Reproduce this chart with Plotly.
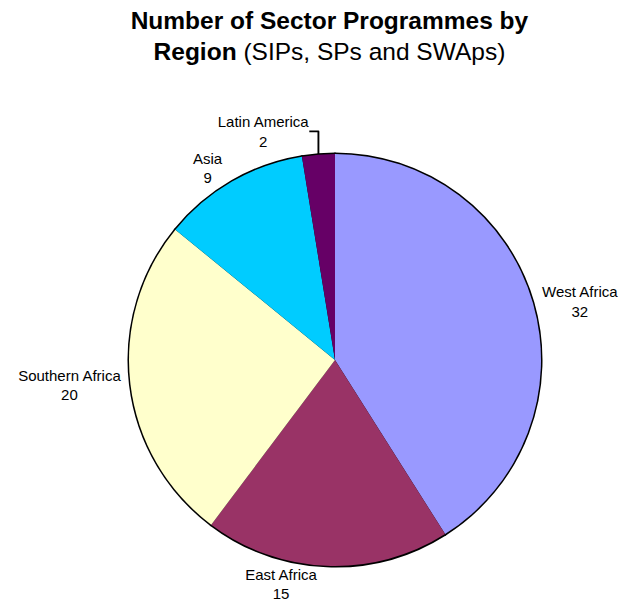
import plotly.graph_objects as go

regions = ["West Africa", "East Africa", "Southern Africa", "Asia", "Latin America"]
counts = [32, 15, 20, 9, 2]
colors = ["#9999FF", "#993366", "#FFFFCC", "#00CCFF", "#660066"]

label_font = dict(family="Liberation Sans, Arial, sans-serif", size=15, color="black")

common = dict(
    labels=regions,
    values=counts,
    sort=False,
    direction="clockwise",
    rotation=0,
    texttemplate="%{label}<br>%{value}",
    textposition="outside",
    showlegend=False,
)

# Bottom layer: thick black stroke, only its outer half stays visible (outline)
outline = go.Pie(
    marker=dict(colors=colors, line=dict(color="black", width=3)),
    textfont=label_font,
    hoverinfo="skip",
    **common,
)
# Top layer: fills without stroke, hides the radial stroke lines
fills = go.Pie(
    marker=dict(colors=colors, line=dict(width=0)),
    textfont=dict(family=label_font["family"], size=15, color="rgba(0,0,0,0)"),
    hoverinfo="label+value",
    **common,
)

fig = go.Figure([outline, fills])

fig.update_layout(
    width=636, height=608,
    margin=dict(l=46, r=0, t=154, b=0),
    paper_bgcolor="white",
    title=dict(
        text="<b>Number of Sector Programmes by</b><br><b>Region</b> (SIPs, SPs and SWAps)",
        x=0.518, xanchor="center", y=0.953, yanchor="top",
        font=dict(family="Liberation Sans, Arial, sans-serif", size=24.5, color="black"),
    ),
)

fig.write_html("out.html")
